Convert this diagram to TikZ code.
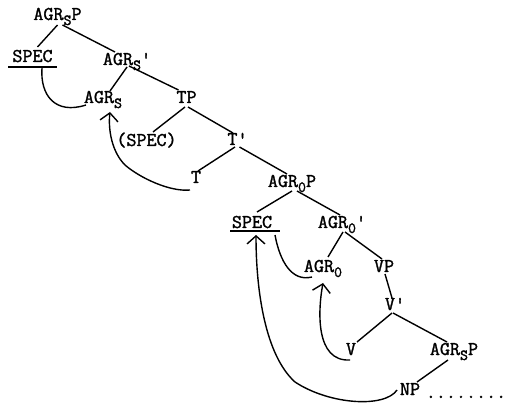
\documentclass[tikz,border=0pt]{standalone}
\usepackage{fontspec}
\newfontfamily\tw{Latin Modern Mono}[FakeBold=1.5]
\usetikzlibrary{arrows.meta}
\newcommand\lowsub[1]{\raisebox{-5pt}{\fontsize{15.5pt}{15.5pt}\selectfont #1}}
\newcommand\pr{\textquotesingle}
\begin{document}
\begin{tikzpicture}[x=1pt,y=-1pt,
  lab/.style={inner sep=0pt,anchor=base,font=\tw\fontsize{19.5pt}{19.5pt}\selectfont},
  edge/.style={line width=1.4pt},
  arr/.style={line width=1.4pt,-{Straight Barb[length=8pt,width=18pt,line width=1.4pt]}},
  curv/.style={line width=1.4pt}]
\useasboundingbox (0,0) rectangle (516,411);
% nodes
\node[lab] (AGRsPt) at (57.5,20) {AGR\lowsub{S}P};
\node[lab] (SPECa) at (32.5,62) {SPEC};
\node[lab] (AGRsbar) at (127,65) {AGR\lowsub{S}\pr};
\node[lab] (AGRs) at (103,103) {AGR\lowsub{S}};
\node[lab] (TP) at (186.5,103) {TP};
\node[lab] (SPECt) at (146.5,146) {(SPEC)};
\node[lab] (Tbar) at (237.5,145) {T\pr};
\node[lab] (T) at (196,183) {T};
\node[lab] (AGRoP) at (292,187) {AGR\lowsub{0}P};
\node[lab] (SPECb) at (252,228) {SPEC};
\node[lab] (AGRobar) at (342,228) {AGR\lowsub{0}\pr};
\node[lab] (AGRo) at (323,272) {AGR\lowsub{0}};
\node[lab] (VP) at (384,272) {VP};
\node[lab] (Vbar) at (395,310) {V\pr};
\node[lab] (V) at (351,355) {V};
\node[lab] (AGRsPl) at (454,355) {AGR\lowsub{S}P};
\node[lab] (NP) at (410,395) {NP};
\node[lab] (dots) at (466,398) {........};
% underlines
\draw[edge] ([shift={(-24.5,5)}]SPECa.base) -- ([shift={(24.5,5)}]SPECa.base);
\draw[edge] ([shift={(-22,3)}]SPECb.base) -- ([shift={(28,3)}]SPECb.base);
% tree edges
\draw[edge] ([shift={(0,5)}]AGRsPt.base) -- ([shift={(5,-15)}]SPECa.base);
\draw[edge] ([shift={(5,5)}]AGRsPt.base) -- ([shift={(-12,-13)}]AGRsbar.base);
\draw[edge] ([shift={(0,2)}]AGRsbar.base) -- ([shift={(7,-12)}]AGRs.base);
\draw[edge] ([shift={(2,1)}]AGRsbar.base) -- ([shift={(-8,-13)}]TP.base);
\draw[edge] ([shift={(-1.5,4)}]TP.base) -- ([shift={(6.5,-14)}]SPECt.base);
\draw[edge] ([shift={(1.5,4)}]TP.base) -- ([shift={(-4.5,-12)}]Tbar.base);
\draw[edge] ([shift={(-2.5,2)}]Tbar.base) -- ([shift={(2,-12)}]T.base);
\draw[edge] ([shift={(2,2)}]Tbar.base) -- ([shift={(-5,-13)}]AGRoP.base);
\draw[edge] ([shift={(0,4)}]AGRoP.base) -- ([shift={(5,-16)}]SPECb.base);
\draw[edge] ([shift={(5,4)}]AGRoP.base) -- ([shift={(-2,-13)}]AGRobar.base);
\draw[edge] ([shift={(1,4)}]AGRobar.base) -- ([shift={(5,-15)}]AGRo.base);
\draw[edge] ([shift={(3,4)}]AGRobar.base) -- ([shift={(-2,-13)}]VP.base);
\draw[edge] ([shift={(1,2)}]VP.base) -- ([shift={(-3,-12)}]Vbar.base);
\draw[edge] ([shift={(-3,3)}]Vbar.base) -- ([shift={(6,-13)}]V.base);
\draw[edge] ([shift={(-2,3)}]Vbar.base) -- ([shift={(-7,-13)}]AGRsPl.base);
\draw[edge] ([shift={(-6,5)}]AGRsPl.base) -- ([shift={(7,-13)}]NP.base);
% movement curves
\draw[curv] ([shift={(9.5,6)}]SPECa.base) .. controls (40,95) and (55,115) .. ([shift={(-17,2)}]AGRs.base);
\draw[arr] ([shift={(-6,7)}]T.base) .. controls (170,192) and (140,178) .. (125,165) .. controls (112,152) and (108,130) .. ([shift={(7,9)}]AGRs.base);
\draw[curv] ([shift={(23,7)}]SPECb.base) .. controls (280,262) and (292,282) .. ([shift={(-11,5)}]AGRo.base);
\draw[arr] ([shift={(-1,5)}]V.base) .. controls (315,362) and (318,310) .. ([shift={(0,11)}]AGRo.base);
\draw[arr] ([shift={(-13,-5)}]NP.base) .. controls (385,408) and (330,405) .. (295,382) .. controls (265,355) and (256,290) .. ([shift={(4,7)}]SPECb.base);
\end{tikzpicture}
\end{document}
